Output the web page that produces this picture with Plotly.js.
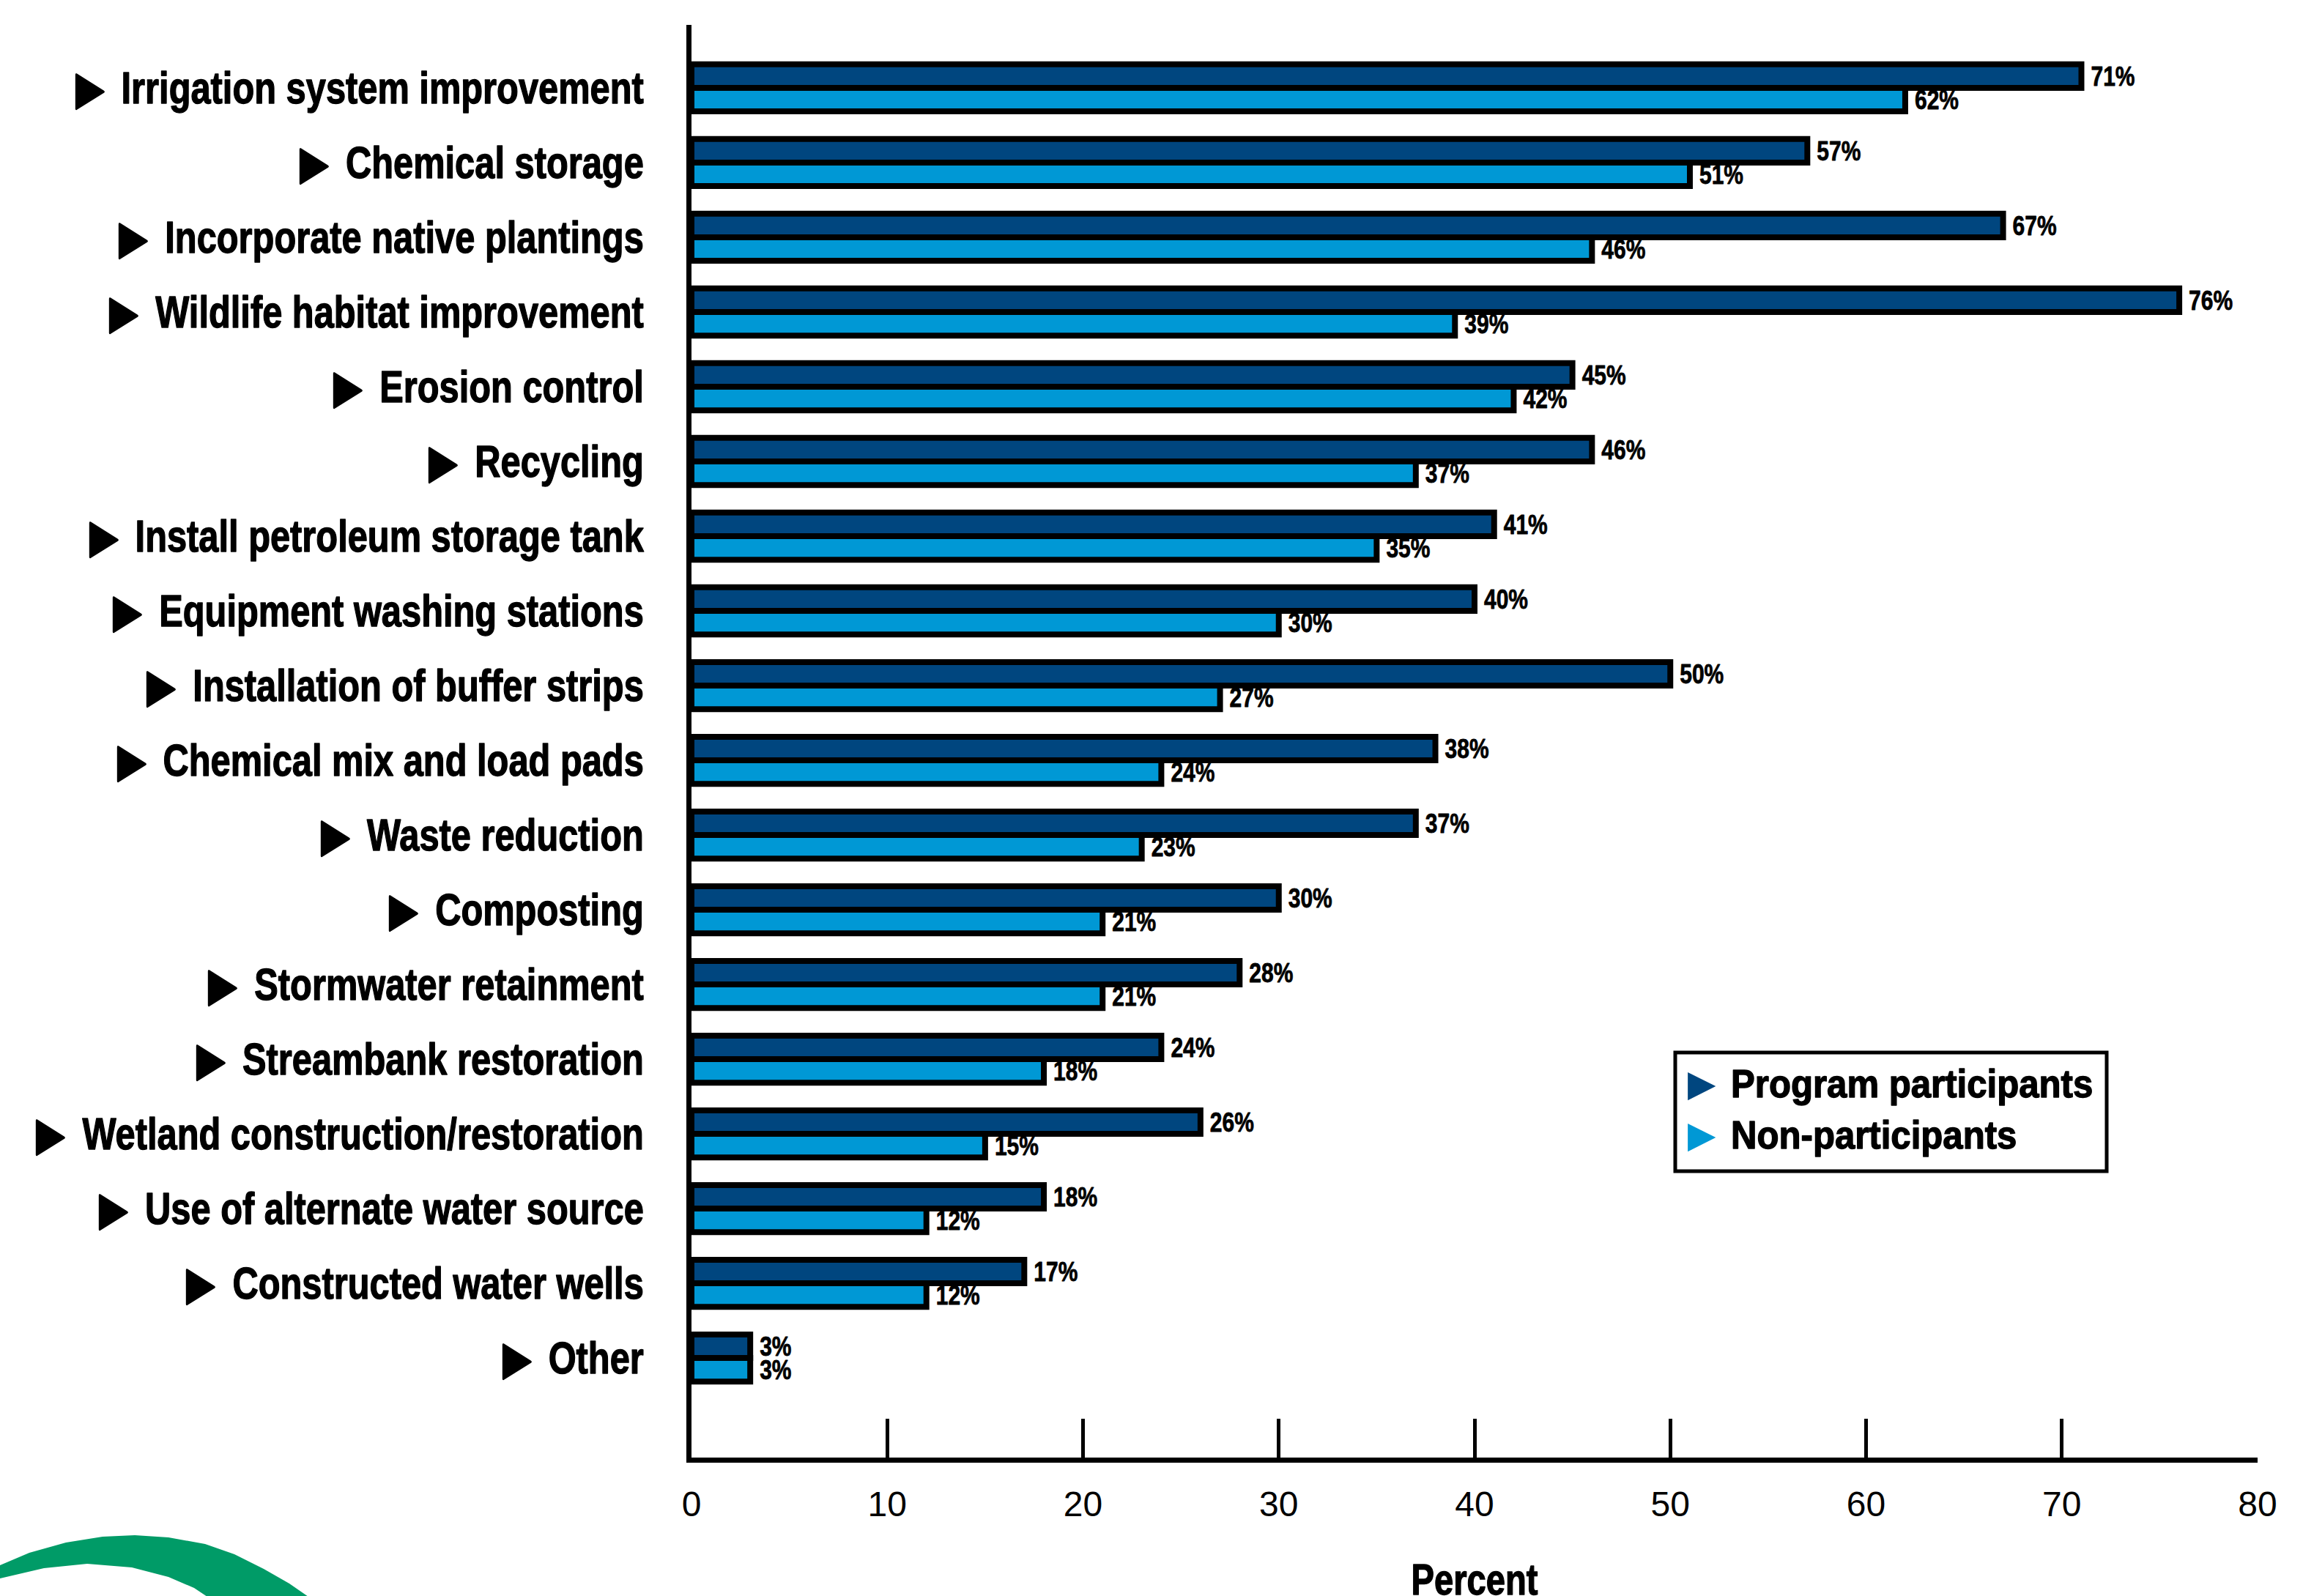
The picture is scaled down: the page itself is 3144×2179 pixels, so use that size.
<!DOCTYPE html>
<html>
<head>
<meta charset="utf-8">
<script src="https://cdn.plot.ly/plotly-3.0.1.min.js"></script>
<style>html,body{margin:0;padding:0;background:#fff;}#chart{width:3144px;height:2179px;}</style>
</head>
<body>
<div id="chart"></div>
<script>
// ---- data ----
const categories = [
  "Irrigation system improvement",
  "Chemical storage",
  "Incorporate native plantings",
  "Wildlife habitat improvement",
  "Erosion control",
  "Recycling",
  "Install petroleum storage tank",
  "Equipment washing stations",
  "Installation of buffer strips",
  "Chemical mix and load pads",
  "Waste reduction",
  "Composting",
  "Stormwater retainment",
  "Streambank restoration",
  "Wetland construction/restoration",
  "Use of alternate water source",
  "Constructed water wells",
  "Other"
];
const participants    = [71, 57, 67, 76, 45, 46, 41, 40, 50, 38, 37, 30, 28, 24, 26, 18, 17, 3];
const nonParticipants = [62, 51, 46, 39, 42, 37, 35, 30, 27, 24, 23, 21, 21, 18, 15, 12, 12, 3];
const seriesNames = ["Program participants", "Non-participants"];
const xTickVals = [0, 10, 20, 30, 40, 50, 60, 70, 80];
const yTickText = categories.map(c => "▶\u2002" + c);

// ---- styling ----
const W = 3144, H = 2179;
const M = {l: 944, r: 62, t: 34, b: 189};
const plotW = W - M.l - M.r, plotH = H - M.t - M.b;
const BOLD = "Liberation Sans, Arial, sans-serif";
const REG = "Liberation Sans, Arial, sans-serif";
const DARK = "#00467f", LIGHT = "#0098d5", GREEN = "#009b67";
const SERIES_COLORS = [DARK, LIGHT];

function px2paper(x, y) { return [(x - M.l) / plotW, (H - M.b - y) / plotH]; }

function barTrace(name, vals, color) {
  return {
    type: "bar", orientation: "h", name: name,
    x: vals, y: categories,
    marker: {color: color, line: {color: "#000", width: 8}},
    text: vals.map(v => v + "%"),
    textposition: "outside",
    constraintext: "none",
    cliponaxis: false,
    textfont: {family: BOLD, size: 37.5, weight: "bold", color: "#000"},
    showlegend: false,
    hoverinfo: "skip"
  };
}

// decorative logo arc (pixel outline -> paper coords)
const arcOuter = [[-20,2147],[0,2137],[40,2120],[90,2106],[140,2098],[184,2096],[230,2099],[280,2108],[320,2122],[360,2142],[395,2162],[421,2180],[435,2200]];
const arcInner = [[292,2200],[283,2180],[265,2168],[230,2153],[180,2140],[119,2135],[60,2141],[0,2155],[-20,2162]];
const arcPath = "M " + arcOuter.concat(arcInner).map(p => px2paper(p[0], p[1]).map(v => v.toFixed(5)).join(",")).join(" L ") + " Z";

// legend box (drawn as shape + annotations so the key can be a large triangle)
const legBox = {x0: 2287, y0: 1437, x1: 2876, y1: 1599};
const legRowsY = [1479, 1549];
const lb0 = px2paper(legBox.x0, legBox.y1), lb1 = px2paper(legBox.x1, legBox.y0);

const annotations = [];
seriesNames.forEach((name, i) => {
  const tri = px2paper(2303, legRowsY[i]);
  const txt = px2paper(2362, legRowsY[i]);
  annotations.push({xref: "paper", yref: "paper", x: tri[0], y: tri[1], xanchor: "left", yanchor: "middle",
    text: "▶", showarrow: false, font: {family: "DejaVu Sans", size: 50, color: SERIES_COLORS[i]}, borderpad: 0});
  annotations.push({xref: "paper", yref: "paper", x: txt[0], y: txt[1], xanchor: "left", yanchor: "middle",
    text: name, showarrow: false, font: {family: BOLD, size: 54, weight: "bold", color: "#000"}, borderpad: 0});
});

const data = [
  barTrace(seriesNames[0], participants, DARK),
  barTrace(seriesNames[1], nonParticipants, LIGHT)
];

const layout = {
  width: W, height: H,
  margin: {l: M.l, r: M.r, t: M.t, b: M.b, pad: 0, autoexpand: false},
  paper_bgcolor: "#fff", plot_bgcolor: "#fff",
  barmode: "group", bargap: 0.37, bargroupgap: 0,
  showlegend: false,
  xaxis: {
    range: [0, 80], tickvals: xTickVals, ticktext: xTickVals.map(String),
    ticks: "inside", ticklen: 53, tickwidth: 5, tickcolor: "#000",
    showline: true, linewidth: 7, linecolor: "#000",
    showgrid: false, zeroline: false,
    tickfont: {family: REG, size: 48, color: "#000"},
    ticklabelstandoff: 15,
    title: {text: "Percent", font: {family: BOLD, size: 59, weight: "bold", color: "#000"}, standoff: 93},
    fixedrange: true
  },
  yaxis: {
    type: "category", categoryorder: "array", categoryarray: categories,
    range: [categories.length - 1 + 1.333, -0.843],
    tickvals: categories, ticktext: yTickText,
    ticks: "", showline: true, linewidth: 7, linecolor: "#000",
    showgrid: false, zeroline: false,
    tickfont: {family: BOLD, size: 61, weight: "bold", color: "#000"},
    ticklabelstandoff: 46,
    fixedrange: true
  },
  annotations: annotations,
  shapes: [
    {type: "path", xref: "paper", yref: "paper", path: arcPath,
     fillcolor: GREEN, line: {width: 0}, layer: "above"},
    {type: "rect", xref: "paper", yref: "paper", x0: lb0[0], y0: lb0[1], x1: lb1[0], y1: lb1[1],
     fillcolor: "#fff", line: {color: "#000", width: 5}, layer: "below"}
  ]
};

// condensed heavy look: compress glyphs horizontally around a pivot, thicken strokes
function squish(nodes, f, pivot, extraDx, stroke, extraDy) {
  nodes.forEach(t => {
    const len = t.getComputedTextLength();
    if (!len) return;
    const b0 = t.getBBox();
    t.setAttribute("textLength", (len * f).toFixed(2));
    t.setAttribute("lengthAdjust", "spacingAndGlyphs");
    const b1 = t.getBBox();
    let dx = 0;
    if (pivot === "left") dx = b0.x - b1.x;
    else if (pivot === "right") dx = (b0.x + b0.width) - (b1.x + b1.width);
    else dx = (b0.x + b0.width / 2) - (b1.x + b1.width / 2);
    dx += (extraDx || 0);
    if (Math.abs(dx) > 0.01) {
      const x0 = parseFloat(t.getAttribute("x") || 0);
      t.setAttribute("x", (x0 + dx).toFixed(2));
    }
    if (extraDy) {
      const y0 = parseFloat(t.getAttribute("y") || 0);
      t.setAttribute("y", (y0 + extraDy).toFixed(2));
    }
    if (stroke) {
      t.style.stroke = "#000";
      t.style.strokeWidth = stroke + "px";
      t.style.strokeLinejoin = "round";
    }
  });
}

Plotly.newPlot("chart", data, layout, {displayModeBar: false, staticPlot: true}).then(gd => {
  const q = s => Array.from(gd.querySelectorAll(s));
  squish(q("g.ytick text"), 0.80, "right", 0, 1.4);
  squish(q("text.bartext"), 0.80, "left", 10, 0.8);
  squish(q("text.xtitle"), 0.80, "center", 0, 1.4, 11);
  const annTexts = q("g.annotation text.annotation-text").filter(t => t.textContent !== "▶");
  squish(annTexts, 0.91, "left", 0, 1.4);
});
</script>
</body>
</html>
